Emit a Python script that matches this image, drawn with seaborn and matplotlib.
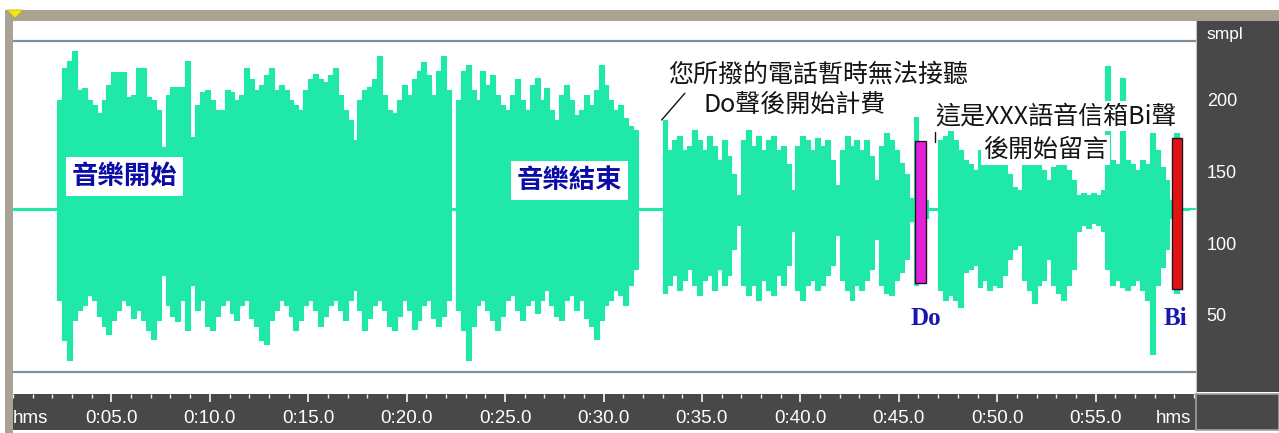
import numpy as np
import pandas as pd
import matplotlib
matplotlib.use("Agg")
import matplotlib.pyplot as plt
import matplotlib.transforms as mtransforms
from matplotlib.patches import Rectangle, Polygon
from matplotlib.ticker import MultipleLocator
import seaborn as sns

# ---------------------------------------------------------------------------
# 8-bit recording, envelope per 0.25 s block (sample units, silence ~ 125)
# ---------------------------------------------------------------------------
BLOCK_SEC = 0.25
TOTAL_SEC = 60.1

wave_top = [
    126, 126, 126, 126, 126, 126, 126, 126, 126,
    201, 223, 228, 235, 208, 209, 201, 197, 192, 201,
    211, 220, 220, 220, 203, 204, 223, 223, 203, 201,
    194, 168, 204, 210, 210, 210, 228, 175, 197, 206,
    208, 201, 194, 194, 208, 206, 201, 204, 223, 215,
    208, 211, 218, 223, 208, 211, 208, 201, 197, 194,
    208, 215, 219, 215, 213, 218, 223, 204, 194, 187,
    173, 201, 208, 210, 215, 231, 204, 194, 192, 201,
    211, 204, 215, 221, 227, 218, 204, 221, 231, 208,
    126,
    201, 221, 225, 208, 201, 221, 211, 218, 204, 197,
    194, 204, 215, 201, 194, 211, 216, 201, 209, 194,
    187, 204, 211, 201, 190, 194, 204, 197, 208, 225,
    211, 201, 194, 197, 188, 183, 180,
    126, 126, 126, 126, 126,
    187, 166, 173, 176, 166, 169, 180, 173,
    166, 176, 169, 159, 173, 162, 149, 135, 173, 180,
    169, 176, 166, 173, 176, 166, 169, 156, 138, 169,
    176, 173, 166, 174, 169, 173, 159, 142, 166, 176,
    169, 173, 166, 173, 162, 145, 169, 178, 173, 166,
    157, 149, 133, 189, 166, 131, 126, 126, 173, 176,
    180, 173, 166, 159, 156, 152, 166, 162, 166, 159,
    162, 156, 149, 140, 138, 156, 159, 162, 156, 152,
    145, 154, 159, 156, 152, 145, 135, 136, 135, 136,
    135, 138, 224, 159, 156, 216, 159, 156, 152, 159,
    156, 178, 166, 154, 145, 131, 178, 126, 126, 126,
]

wave_bottom = [
    124, 124, 124, 124, 124, 124, 124, 124, 124,
    62, 34, 20, 48, 55, 58, 65, 62, 51, 44,
    38, 48, 55, 62, 58, 49, 55, 48, 41, 35,
    48, 79, 58, 51, 47, 62, 41, 72, 55, 62,
    44, 41, 51, 58, 62, 53, 48, 58, 62, 49,
    44, 34, 31, 48, 55, 62, 58, 51, 41, 48,
    58, 62, 55, 44, 51, 58, 62, 55, 48, 62,
    69, 55, 41, 49, 58, 62, 55, 44, 41, 51,
    62, 55, 42, 48, 58, 62, 49, 44, 51, 62,
    124,
    55, 41, 20, 44, 58, 62, 55, 48, 41, 51,
    62, 65, 55, 48, 58, 62, 53, 62, 69, 58,
    51, 48, 62, 65, 55, 62, 49, 44, 35, 48,
    58, 62, 69, 65, 58, 72, 83,
    124, 124, 124, 124, 124,
    67, 72, 79, 69, 76, 83, 72, 65,
    76, 79, 69, 83, 72, 79, 97, 114, 72, 65,
    72, 62, 76, 69, 65, 79, 72, 86, 110, 69,
    62, 72, 76, 69, 72, 79, 86, 107, 76, 69,
    62, 72, 69, 76, 83, 104, 72, 67, 65, 76,
    81, 90, 117, 72, 83, 119, 124, 124, 69, 62,
    65, 62, 57, 81, 83, 86, 71, 76, 69, 72,
    71, 79, 90, 97, 100, 76, 69, 60, 72, 76,
    90, 72, 67, 62, 72, 83, 110, 114, 112, 115,
    114, 110, 83, 72, 76, 71, 69, 72, 76, 69,
    62, 24, 72, 85, 97, 119, 67, 124, 124, 124,
]

time_ticks = [5, 10, 15, 20, 25, 30, 35, 40, 45, 50, 55]
time_labels = ["0:05.0", "0:10.0", "0:15.0", "0:20.0", "0:25.0", "0:30.0",
               "0:35.0", "0:40.0", "0:45.0", "0:50.0", "0:55.0"]
level_ticks = [50, 100, 150, 200]
level_labels = ["50", "100", "150", "200"]
LEVEL_MAX = 255
clip_levels = [242, 12]

# tone markers: time span (s) and sample range
do_marker = {"start": 45.82, "end": 46.38, "low": 73.6, "high": 172.2}
bi_marker = {"start": 58.88, "end": 59.38, "low": 69.4, "high": 174.5}

assert len(wave_top) == len(wave_bottom) == 240

# ---------------------------------------------------------------------------
sns.set_style("white")
plt.rcParams["font.family"] = ["Noto Sans CJK TC", "DejaVu Sans"]

WAVE = "#1FE8A8"
FRAME = "#A9A393"
PANEL = "#484848"

W, H = 1279, 433
fig = plt.figure(figsize=(W / 100, H / 100), dpi=100, facecolor="white")


def box(x0, y0, x1, y1):
    return [x0 / W, 1 - y1 / H, (x1 - x0) / W, (y1 - y0) / H]


# window frame
bg = fig.add_axes([0, 0, 1, 1])
bg.set_xlim(0, W)
bg.set_ylim(H, 0)
bg.axis("off")
bg.add_patch(Rectangle((5, 10), W - 5, 11, color=FRAME, lw=0))
bg.add_patch(Rectangle((5, 10), 8, H - 10, color=FRAME, lw=0))
bg.add_patch(Polygon([(7, 10), (23, 10), (15, 18)], closed=True,
                     facecolor="#F5E51C", edgecolor="#C8B400", lw=0.6))

# ---------------------------------------------------------------------------
# waveform
ax = fig.add_axes(box(13, 21, 1196, 392))
ax.set_facecolor("white")
t = np.arange(len(wave_top)) * BLOCK_SEC
df = pd.DataFrame({"time": t, "top": wave_top, "bottom": wave_bottom})

edges = np.append(df["time"].to_numpy(), TOTAL_SEC)
top_ext = np.append(df["top"].to_numpy(), df["top"].iloc[-1])
bot_ext = np.append(df["bottom"].to_numpy(), df["bottom"].iloc[-1])
ax.fill_between(edges, bot_ext, top_ext, step="post", color=WAVE, lw=0, zorder=2)
sns.lineplot(data=df, x="time", y="top", drawstyle="steps-post", color=WAVE,
             lw=0.8, ax=ax, zorder=2)
sns.lineplot(data=df, x="time", y="bottom", drawstyle="steps-post", color=WAVE,
             lw=0.8, ax=ax, zorder=2)

for lvl in clip_levels:
    ax.axhline(lvl, color="#7F8E9B", lw=1.6, zorder=1)

for mk, col in ((do_marker, "#E21FD9"), (bi_marker, "#E01414")):
    ax.bar((mk["start"] + mk["end"]) / 2, mk["high"] - mk["low"], bottom=mk["low"],
           width=mk["end"] - mk["start"], color=col, edgecolor="#2A1020",
           lw=1.0, zorder=4)

ax.set_xlim(0, TOTAL_SEC)
ax.set_ylim(-2.1, 255.6)
ax.set_xlabel("")
ax.set_ylabel("")
ax.set_xticks([])
ax.set_yticks(np.arange(0, 256, 12.5))
ax.tick_params(axis="y", direction="in", length=2.5, width=1.2,
               color="#E2CF3A", labelleft=False)
for s in ax.spines.values():
    s.set_visible(False)

# annotations
music_box = dict(facecolor="white", edgecolor="none", boxstyle="square,pad=0.22")
ax.text(5.65, 147.6, "音樂開始", fontsize=19, fontweight="bold", color="#0B0BA8",
        ha="center", va="center", bbox=music_box, zorder=6)
ax.text(28.26, 145.0, "音樂結束", fontsize=19, fontweight="bold", color="#0B0BA8",
        ha="center", va="center", bbox=music_box, zorder=6)

note_box = dict(facecolor="white", edgecolor="none", boxstyle="square,pad=0.08")
note_kw = dict(fontsize=18, color="#141414", ha="center", va="center",
               bbox=note_box, zorder=6)
ax.text(40.89, 218.1, "您所撥的電話暫時無法接聽", **note_kw)
ax.text(39.72, 197.2, "Do聲後開始計費", **note_kw)
ax.text(52.98, 189.6, "這是XXX語音信箱Bi聲", **note_kw)
ax.text(52.47, 166.0, "後開始留言", **note_kw)
ax.plot([32.95, 34.13], [186.8, 205.4], color="#141414", lw=1.0, zorder=6)
ax.plot([46.83, 46.83], [178.5, 171.5], color="#141414", lw=1.0, zorder=6)

tone_kw = dict(fontsize=18, fontweight="bold", color="#1818B0", ha="center",
               va="center", family=["Liberation Serif", "DejaVu Serif"], zorder=6)
ax.text(46.38, 49.3, "Do", **tone_kw)
ax.text(59.03, 49.3, "Bi", **tone_kw)

# ---------------------------------------------------------------------------
# sample scale panel
ax_r = fig.add_axes(box(1196, 21, 1279, 392))
ax_r.set_facecolor(PANEL)
ax_r.set_xlim(0, 1)
ax_r.set_ylim(-2.1, 255.6)
ax_r.set_xticks([])
ax_r.set_yticks(level_ticks + [LEVEL_MAX])
ax_r.yaxis.set_minor_locator(MultipleLocator(12.5))
ax_r.tick_params(axis="y", which="major", direction="in", length=5.5, width=1.1,
                 color="white", labelleft=False)
ax_r.tick_params(axis="y", which="minor", direction="in", length=2.4, width=1.0,
                 color="white", labelleft=False)
for side, s in ax_r.spines.items():
    s.set_visible(side == "left")
ax_r.spines["left"].set_color("#C4C4C4")
trans_r = mtransforms.blended_transform_factory(ax_r.transAxes, ax_r.transData)
scale_font = ["Liberation Sans", "DejaVu Sans"]
for v, lab in zip(level_ticks, level_labels):
    ax_r.text(0.13, v, lab, transform=trans_r, color="white", fontsize=13,
              ha="left", va="center", family=scale_font)
ax_r.annotate("smpl", xy=(0.13, LEVEL_MAX), xycoords=trans_r, xytext=(0, -9),
              textcoords="offset points", color="white", fontsize=12.5,
              ha="left", va="center", family=scale_font)

# ---------------------------------------------------------------------------
# time ruler
ax_b = fig.add_axes(box(13, 394, 1196, 430))
ax_b.set_facecolor(PANEL)
ax_b.set_xlim(0, TOTAL_SEC)
ax_b.set_ylim(0, 1)
ax_b.set_yticks([])
ax_b.xaxis.set_ticks_position("top")
ax_b.set_xticks(time_ticks)
ax_b.xaxis.set_minor_locator(MultipleLocator(1))
ax_b.tick_params(axis="x", which="major", direction="in", length=5.5, width=1.3,
                 color="#EEEEEE", labeltop=False, labelbottom=False)
ax_b.tick_params(axis="x", which="minor", direction="in", length=2.6, width=1.0,
                 color="#EEEEEE", labeltop=False, labelbottom=False)
for s in ax_b.spines.values():
    s.set_visible(False)
for x, lab in zip(time_ticks, time_labels):
    ax_b.text(x, 0.31, lab, color="white", fontsize=13.5, ha="center", va="center",
              family=scale_font)
ax_b.text(0.015, 0.31, "hms", transform=ax_b.transAxes, color="white",
          fontsize=13.5, ha="center", va="center", family=scale_font)
ax_b.text(0.981, 0.31, "hms", transform=ax_b.transAxes, color="white",
          fontsize=13.5, ha="center", va="center", family=scale_font)

ax_c = fig.add_axes(box(1196, 394, 1279, 430))
ax_c.set_facecolor(PANEL)
ax_c.set_xticks([])
ax_c.set_yticks([])
for s in ax_c.spines.values():
    s.set_color("#A2A2A2")
    s.set_linewidth(1.2)

fig.savefig("out.png", dpi=100, facecolor=fig.get_facecolor())
